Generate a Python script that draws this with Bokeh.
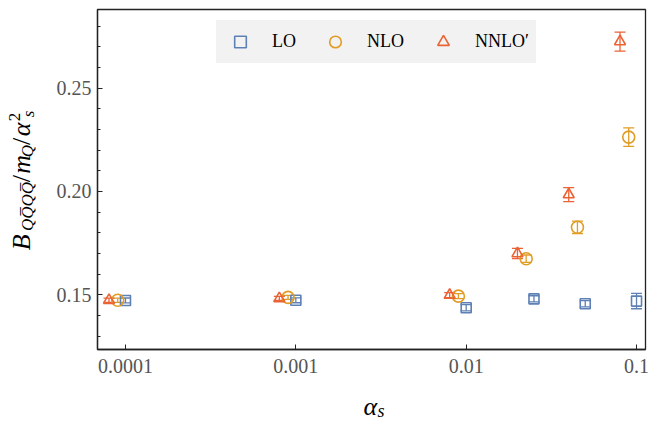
import math
from bokeh.plotting import figure
from bokeh.layouts import row, column
from bokeh.models import (Range1d, FixedTicker, ColumnDataSource, Whisker, TeeHead,
                          Legend, LegendItem)
from bokeh.core.properties import value
from bokeh.embed import file_html
from bokeh.resources import INLINE

# ---------------- data ----------------
lo_x = [1e-4, 1e-3, 1e-2, 2.5e-2, 5e-2, 1e-1]
lo_y = [0.1473, 0.1474, 0.1438, 0.1481, 0.1457, 0.1470]
lo_err = [0.0012, 0.0012, 0.0015, 0.0015, 0.0015, 0.0037]

nlo_x = [9e-5, 9e-4, 9e-3, 2.25e-2, 4.5e-2, 9e-2]
nlo_y = [0.1474, 0.1488, 0.1494, 0.1675, 0.1827, 0.2263]
nlo_err = [0.0010, 0.0010, 0.0012, 0.0018, 0.0030, 0.0045]

nnlo_x = [8e-5, 8e-4, 8e-3, 2e-2, 4e-2, 8e-2]
nnlo_y = [0.1474, 0.1483, 0.1499, 0.1700, 0.1985, 0.2725]
nnlo_err = [0.0010, 0.0010, 0.0012, 0.0025, 0.0034, 0.0046]

series_names = ["LO", "NLO", "NNLO\u2032"]
x_ticks = [1e-4, 1e-3, 1e-2, 1e-1]
x_tick_labels = ["0.0001", "0.001", "0.01", "0.1"]
y_ticks = [0.15, 0.20, 0.25]
y_tick_labels = ["0.15", "0.20", "0.25"]
y_minor = [0.13, 0.14, 0.16, 0.17, 0.18, 0.19, 0.21, 0.22, 0.23, 0.24, 0.26, 0.27, 0.28]

BLUE = "#5E81B5"
ORANGE = "#E19C24"
RED = "#EB6235"
SERIF = "Liberation Serif"

TOTAL_W, TOTAL_H = 650, 420
YL_W = 40
MAIN_H = 382
XL_H = TOTAL_H - MAIN_H

p = figure(width=TOTAL_W - YL_W, height=MAIN_H, x_axis_type="log",
           x_range=Range1d(6.85e-5, 0.1129), y_range=Range1d(0.1236, 0.288),
           output_backend="svg", toolbar_location=None,
           min_border_left=97 - YL_W, min_border_right=5, min_border_top=9,
           min_border_bottom=MAIN_H - 349)
p.grid.visible = False
p.outline_line_color = "#222222"
p.outline_line_width = 1.3


def add_series(xs, ys, errs, color, marker, size):
    src = ColumnDataSource(dict(x=xs, y=ys,
                                upper=[y + e for y, e in zip(ys, errs)],
                                lower=[y - e for y, e in zip(ys, errs)]))
    w = Whisker(source=src, base="x", upper="upper", lower="lower", dimension="height",
                line_color=color, line_width=1.3,
                upper_head=TeeHead(size=11, line_color=color, line_width=1.3),
                lower_head=TeeHead(size=11, line_color=color, line_width=1.3))
    p.add_layout(w)
    return p.scatter("x", "y", source=src, marker=marker, size=size, fill_color=None,
                     line_color=color, line_width=1.6)


r_lo = add_series(lo_x, lo_y, lo_err, BLUE, "square", 10)
r_nlo = add_series(nlo_x, nlo_y, nlo_err, ORANGE, "circle", 12)
r_nnlo = add_series(nnlo_x, nnlo_y, nnlo_err, RED, "triangle", 11)

for ax in (p.xaxis, p.yaxis):
    ax.axis_line_color = "#222222"
    ax.axis_line_width = 1.3
    ax.major_tick_line_color = "#222222"
    ax.minor_tick_line_color = "#222222"
    ax.major_tick_in = 5
    ax.major_tick_out = 0
    ax.minor_tick_in = 3
    ax.minor_tick_out = 0
    ax.major_label_text_font = SERIF
    ax.major_label_text_font_size = "20px"
    ax.major_label_text_color = "#555555"

p.xaxis.ticker = FixedTicker(ticks=x_ticks)
p.xaxis.major_label_overrides = {t: l for t, l in zip(x_ticks, x_tick_labels)}
p.xaxis.minor_tick_line_color = None
p.xaxis.major_label_standoff = 9

p.yaxis.ticker = FixedTicker(ticks=y_ticks, minor_ticks=y_minor)
p.yaxis.major_label_overrides = {t: l for t, l in zip(y_ticks, y_tick_labels)}
p.yaxis.major_label_standoff = 6

legend = Legend(items=[LegendItem(label=series_names[0], renderers=[r_lo]),
                       LegendItem(label=series_names[1], renderers=[r_nlo]),
                       LegendItem(label=series_names[2], renderers=[r_nnlo])],
                orientation="horizontal", location=(119, 286),
                background_fill_color="#f2f2f2", background_fill_alpha=1.0,
                border_line_color="#f2f2f2", border_line_alpha=1.0,
                padding=6, spacing=22, label_standoff=15,
                glyph_width=34, glyph_height=29, margin=0,
                label_text_font=SERIF, label_text_font_size="18px",
                label_text_color="black")
p.add_layout(legend)


def blank(w, h):
    f = figure(width=w, height=h, x_range=Range1d(0, w), y_range=Range1d(0, h),
               output_backend="svg", toolbar_location=None,
               x_axis_location=None, y_axis_location=None,
               min_border_left=0, min_border_right=0, min_border_top=0, min_border_bottom=0)
    f.grid.visible = False
    f.outline_line_color = None
    return f


def put(f, text, x, y, size, style="italic", angle=0.0, align="left", baseline="alphabetic"):
    f.text(x=[x], y=[y], text=[text], angle=angle, text_font=value(SERIF),
           text_font_size=f"{size}px", text_font_style=style, text_color="black",
           text_align=align, text_baseline=baseline)


# y axis label B_{QQ̄QQ̄}/m_Q/α_s^2, pieces centred (rotated 90°)
yl = blank(YL_W, MAIN_H)
A = math.pi / 2
K = 0.3375  # baseline offset of the line-box centre, in em


def vput(text, baseline_x, center_y, size, style="italic"):
    put(yl, text, baseline_x - K * size, MAIN_H - center_y, size, style=style, angle=A,
        align="center", baseline="middle")


vput("B", 30, 261.5, 26)
vput("QQ\u0305QQ\u0305", 33, 221.3, 17)
vput("/", 30, 189.9, 26, style="normal")
vput("m", 30, 174.0, 26)
vput("Q", 33, 159.1, 17)
vput("/", 30, 148.2, 26, style="normal")
vput("\u03b1", 30, 134.8, 26)
vput("2", 20, 120.8, 17, style="normal")
vput("s", 34, 117.4, 17)

# x axis label α_s
xl = blank(TOTAL_W, XL_H)
put(xl, "\u03b1", 363, TOTAL_H - 406, 26)
put(xl, "s", 377, TOTAL_H - 410, 18)

layout = column(row(yl, p), xl)
open("out.html", "w").write(file_html(layout, INLINE))
